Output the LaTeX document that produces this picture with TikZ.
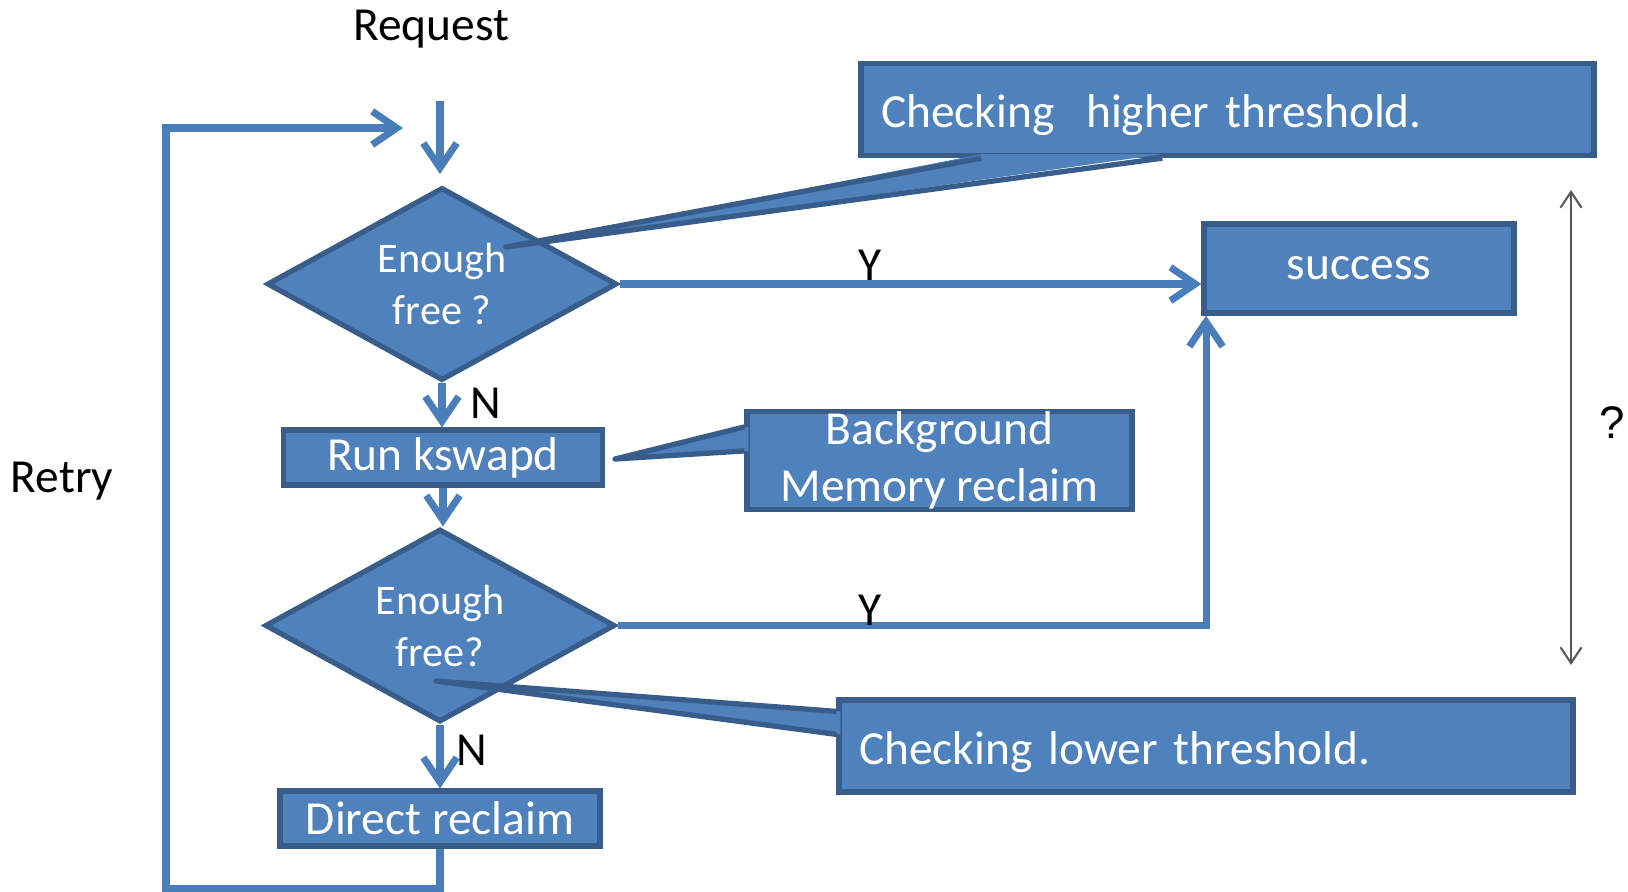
\documentclass[tikz,border=0pt]{standalone}
\usepackage{fontspec}
\setmainfont{Carlito}
\newfontfamily\arialfont{Liberation Sans}
\usetikzlibrary{shapes.geometric,arrows.meta,calc}
\definecolor{boxfill}{HTML}{4F81BD}
\definecolor{boxline}{HTML}{385D8A}
\definecolor{flowline}{HTML}{4A7EBB}
\definecolor{gaugegray}{HTML}{595959}

\begin{document}
\begin{tikzpicture}
  \tikzstyle{box}=[rectangle, draw=boxline, fill=boxfill, line width=1.5pt, text=white, inner sep=0pt, font=\fontsize{13.5}{15}\selectfont]
  \tikzstyle{choice}=[box, diamond, aspect=1.8, minimum width=3.5cm, minimum height=1.93cm, align=center, font=\fontsize{12}{14.8}\selectfont]
  \tikzstyle{note}=[box, minimum height=0.92cm, inner xsep=0.2cm, align=left, text height=0.46cm, text depth=0.10cm]
  \tikzstyle{tail}=[fill=boxfill]
  \tikzstyle{tailline}=[draw=boxline, line width=1.5pt, line join=round]
  \tikzstyle{flow}=[draw=flowline, line width=2pt, -{Straight Barb[length=7pt,width=9.5pt]}]
  \tikzstyle{gauge}=[draw=gaugegray, line width=0.6pt, {Straight Barb[length=4.5pt,width=6pt]}-{Straight Barb[length=4.5pt,width=6pt]}]
  \tikzstyle{lbl}=[inner sep=0pt, font=\fontsize{13.5}{15}\selectfont]

  \useasboundingbox (0,0) rectangle (16.28,-8.91);

  \node[lbl] (request) at (4.31, -0.29) {Request};
  \node[lbl] (retry)   at (0.62, -4.81) {Retry};

  \node[choice] (free1)   at (4.42, -2.84)  {Enough\\free ?};
  \node[box, minimum width=3.19cm, minimum height=0.55cm] (kswapd) at (4.43, -4.575) {Run kswapd};
  \node[choice] (free2)   at (4.40, -6.255) {Enough\\free?};
  \node[box, minimum width=3.20cm, minimum height=0.55cm] (direct) at (4.40, -8.185) {Direct reclaim};
  \node[box, minimum width=3.10cm, minimum height=0.89cm] (success) at (13.59, -2.685) {success};

  % callouts
  \node[note, text width=6.93cm] (higher) at (12.275, -1.095) {Checking\ \ higher threshold.};
  \node[box, minimum width=3.85cm, minimum height=0.97cm, align=center, font=\fontsize{13.5}{16.3}\selectfont] (background) at (9.395, -4.605) {Background\\Memory reclaim};
  \node[note, text width=6.94cm] (lower) at (12.06, -7.46) {Checking lower threshold.};

  \coordinate (highertip) at (5.06, -2.47);
  \coordinate (bgtip)     at (6.15, -4.59);
  \coordinate (lowertip)  at (4.36, -6.81);

  \fill[tail] ($(higher.south west)+(1.23,0.04)$) -- (highertip) -- ($(higher.south west)+(3.04,0.04)$) -- cycle;
  \draw[tailline] ($(higher.south west)+(1.23,0)$) -- (highertip) -- ($(higher.south west)+(3.04,0)$);
  \fill[tail] ($(background.north west)+(0.04,-0.18)$) -- (bgtip) -- ($(background.north west)+(0.04,-0.42)$) -- cycle;
  \draw[tailline] ($(background.north west)+(0,-0.18)$) -- (bgtip) -- ($(background.north west)+(0,-0.42)$);
  \fill[tail] ($(lower.north west)+(0.04,-0.14)$) -- (lowertip) -- ($(lower.north west)+(0.04,-0.37)$) -- cycle;
  \draw[tailline] ($(lower.north west)+(0,-0.14)$) -- (lowertip) -- ($(lower.north west)+(0,-0.37)$);

  % connectors
  \coordinate (in)      at (4.40, -1.01);
  \coordinate (inend)   at (4.40, -1.74);
  \coordinate (loopbl)  at (1.66, -8.88);
  \coordinate (looptl)  at (1.66, -1.28);
  \coordinate (loopend) at (4.03, -1.28);
  \coordinate (yturn)   at (12.06, -6.255);

  \draw[flow] (in) -- (inend);
  \draw[flow] (free1.south) -- (free1.south |- kswapd.north);
  \draw[flow] (kswapd.south) -- (kswapd.south |- free2.north);
  \draw[flow] (free2.south) -- (direct.north);
  \draw[flow] (free1.east) -- (free1.east -| success.west);
  \draw[flow] (free2.east) -- (yturn) -- (yturn |- success.south);
  \draw[flow] (direct.south) -- (direct.south |- loopbl) -- (loopbl) -- (looptl) -- (loopend);

  \node[lbl] (n1) at (4.86, -4.03) {N};
  \node[lbl] (n2) at (4.72, -7.50) {N};
  \node[lbl] (y1) at (8.70, -2.65) {Y};
  \node[lbl, anchor=south] (y2) at (8.70, -6.26) {Y};

  % range
  \coordinate (gtop) at (15.71, -1.90);
  \coordinate (gbot) at (15.71, -6.65);
  \draw[gauge] (gtop) -- (gbot);
  \node[lbl, font=\arialfont\fontsize{13}{15}\selectfont] (range) at (16.12, -4.23) {?};
\end{tikzpicture}
\end{document}
